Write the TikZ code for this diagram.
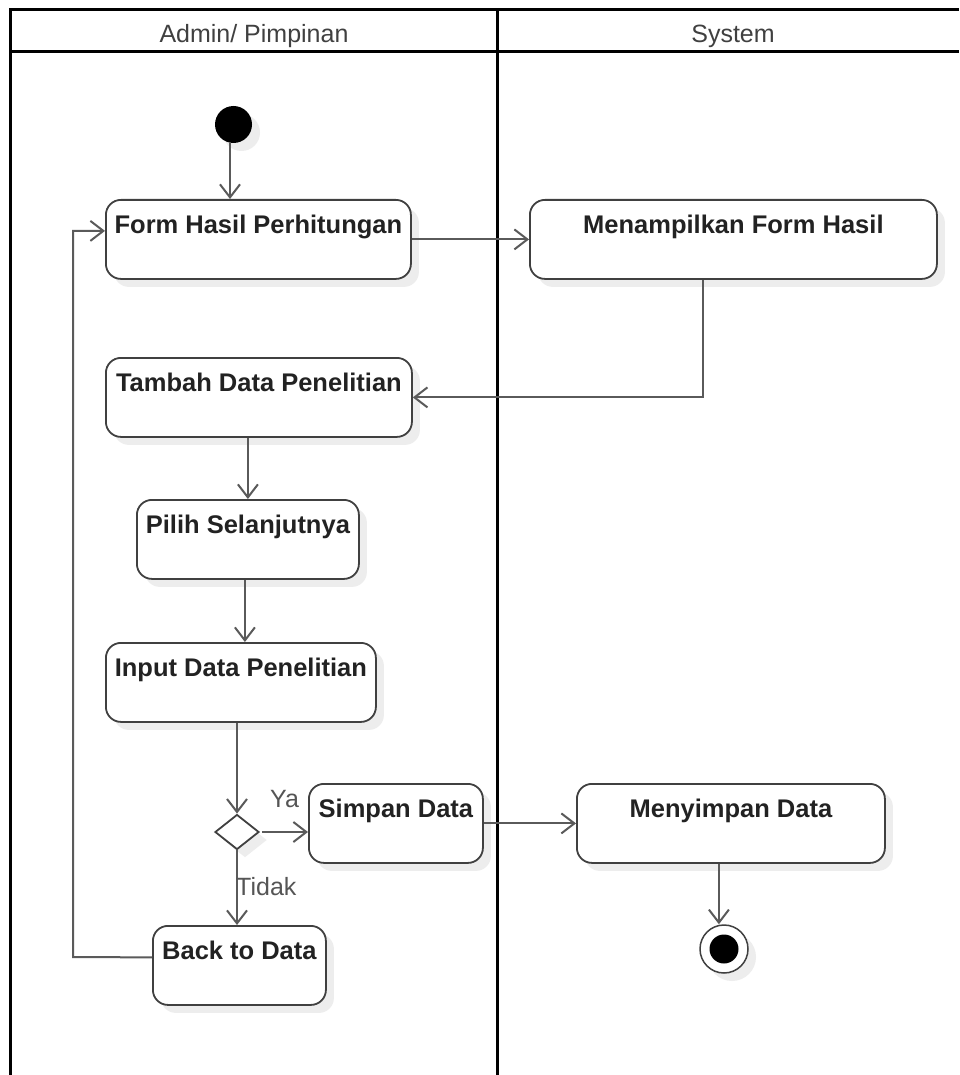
\documentclass[tikz,border=0pt]{standalone}
\usepackage{fontspec}
\setmainfont{Liberation Sans}
\usetikzlibrary{arrows.meta,shapes.geometric,shadows}
\definecolor{linec}{HTML}{5A5A5A}
\definecolor{boxc}{HTML}{404040}
\definecolor{txtc}{HTML}{222222}
\definecolor{lblc}{HTML}{555555}
\definecolor{shadc}{HTML}{EDEDED}
\tikzset{
  shade box/.style={drop shadow={shadow xshift=8pt,shadow yshift=-8pt,fill=shadc,opacity=1}},
  act/.style={draw=boxc, line width=1.8pt, rounded corners=15pt, fill=white,
    inner xsep=0pt, inner ysep=0pt, text height=34pt, text depth=45pt,
    minimum height=79pt, anchor=north west,
    font=\fontsize{25.5}{30}\selectfont\bfseries, text=txtc, shade box},
  flow/.style={draw=linec, line width=2pt,
    -{Straight Barb[length=13pt,width=20pt,line width=2pt]}},
  lane/.style={draw=black, line width=3pt, line join=miter},
  lanetitle/.style={font=\fontsize{25}{30}\selectfont, text=boxc, inner sep=0pt, anchor=base},
  guard/.style={font=\fontsize{25}{30}\selectfont, text=lblc, inner sep=0pt, anchor=base west},
}
\begin{document}
\begin{tikzpicture}[x=1pt,y=-1pt]
\useasboundingbox[fill=white] (0,0) rectangle (959,1075);
% swimlanes
\draw[lane] (10,1075) -- (10,10) -- (959,10);
\draw[lane] (10,52) -- (959,52);
\draw[lane] (497,10) -- (497,1075);
\node[lanetitle] (laneA) at (254,43) {Admin/ Pimpinan};
\node[lanetitle] (laneB) at (733,43) {System};
% nodes
\node[circle, fill=black, minimum size=37pt, inner sep=0pt, shade box] (start) at (233.5,124.5) {};
\node[act, minimum width=305pt] (form) at (105,199) {Form Hasil Perhitungan};
\node[act, minimum width=407pt] (tampil) at (529,199) {Menampilkan Form Hasil};
\node[act, minimum width=306pt] (tambah) at (105,357) {Tambah Data Penelitian};
\node[act, minimum width=222pt] (pilih) at (136,499) {Pilih Selanjutnya};
\node[act, minimum width=270pt] (input) at (105,642) {Input Data Penelitian};
\node[diamond, draw=boxc, line width=1.8pt, fill=white, inner sep=0pt,
      minimum width=44pt, minimum height=35pt, shade box] (dec) at (237,832) {};
\node[act, minimum width=174pt] (simpan) at (308,783) {Simpan Data};
\node[act, minimum width=308pt] (menyimpan) at (576,783) {Menyimpan Data};
\node[act, minimum width=173pt] (back) at (152,925) {Back to Data};
\node[circle, draw=boxc, line width=1.5pt, fill=white, minimum size=48pt, inner sep=0pt, shade box] (endc) at (724,949) {};
\node[circle, fill=black, minimum size=29pt, inner sep=0pt] (endcore) at (endc.center) {};
\coordinate (loop) at (73,957);
% connectors
\draw[flow] (start.south -| 230,0) -- (form.north -| 230,0);
\draw[flow] (form.east) -- (tampil.west);
\draw[flow] ([xshift=-30.5pt]tampil.south) |- (tambah.east);
\draw[flow] (pilih.north |- tambah.south) -- (pilih.north);
\draw[flow] ([xshift=-3pt]pilih.south) -- ([xshift=-3pt]pilih.south |- input.north);
\draw[flow] (input.south -| dec.north) -- (dec.north);
\draw[flow] ([xshift=2pt]dec.east) -- (simpan.west |- dec.east);
\draw[flow] (simpan.east) -- (menyimpan.west);
\draw[flow] (dec.south) -- (dec.south |- back.north);
\draw[flow] ([yshift=8pt]back.west) -- (loop) |- ([yshift=8.5pt]form.west);
\draw[flow] ([xshift=-12pt]menyimpan.south) -- ([xshift=-12pt]menyimpan.south |- endc.north);
% guards
\node[guard] (ya) at (270,807) {Ya};
\node[guard] (tidak) at (236,895) {Tidak};
\end{tikzpicture}
\end{document}
